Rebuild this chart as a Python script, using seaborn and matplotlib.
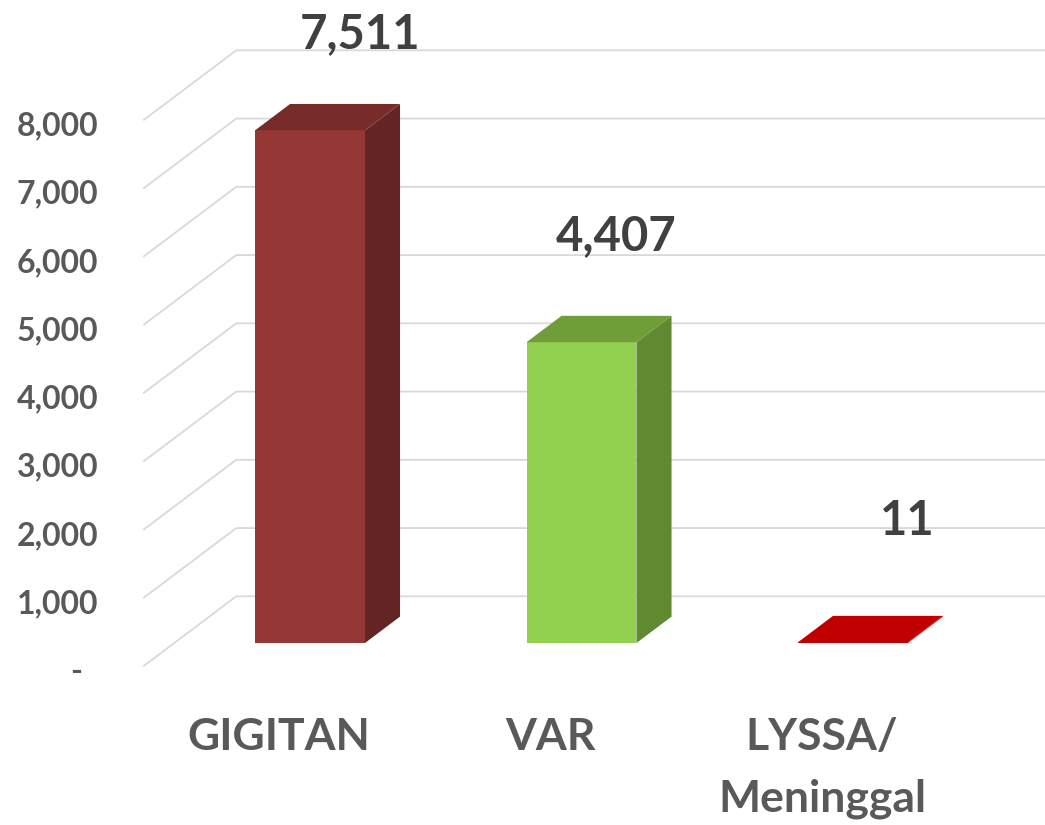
import matplotlib
matplotlib.use("Agg")
import matplotlib.pyplot as plt
import seaborn as sns
import pandas as pd
from matplotlib.patches import Polygon
from matplotlib.transforms import offset_copy

# ---------------- data ----------------
categories = ["GIGITAN", "VAR", "LYSSA/\nMeninggal"]
values = [7511, 4407, 11]
value_labels = ["7,511", "4,407", "11"]
tick_values = [0, 1000, 2000, 3000, 4000, 5000, 6000, 7000, 8000]
tick_labels = ["-  ", "1,000", "2,000", "3,000", "4,000", "5,000", "6,000", "7,000", "8,000"]

# ---------------- styles ----------------
front_colors = ["#953735", "#92D050", "#C00000"]
side_colors = ["#632523", "#5F8A31", "#C00000"]
top_colors = ["#772C2A", "#6F9E39", "#C00000"]
label_nudges = [(50, 82), (35, 92), (54, 107)]  # px, value labels
grid_color = "#D9D9D9"
axis_text = "#595959"
value_text = "#404040"

sns.set_theme(style="white")
plt.rcParams["font.family"] = ["Lato", "DejaVu Sans"]

W, H, DPI = 10.45, 8.25, 100
fig = plt.figure(figsize=(W, H), dpi=DPI)
ax = fig.add_axes([0, 0, 1, 1])

df = pd.DataFrame({"cat": categories, "val": values})
sns.barplot(data=df, x="cat", y="val", hue="cat", palette=front_colors,
            order=categories, hue_order=categories, width=0.405,
            saturation=1, legend=False, linewidth=0, ax=ax, zorder=2)

# axis scaling (category spacing 271.5 px, 68.25 px per 1000)
ax.set_xlim(-1.1418, 2.7072)
ax.set_ylim(-2666.7, 9421.2)
ax.set_axis_off()

# pseudo-3D depth vector for the full wall (data units)
DX, DY = 0.3425, 1025.6
F = 1.0 / 3.0          # bar front plane lies 1/3 into the depth
BD = 0.377             # bar depth fraction
wall_left = -0.5

# gridlines on the back wall with slanted side wall part
for v in tick_values:
    xs = [wall_left - F * DX, wall_left + (1 - F) * DX, 3.0]
    ys = [v - F * DY, v + (1 - F) * DY, v + (1 - F) * DY]
    ax.plot(xs, ys, color=grid_color, lw=1.3, zorder=0, solid_capstyle="butt")

# tick labels at front-left of the wall
for v, lab in zip(tick_values, tick_labels):
    tr = offset_copy(ax.transData, fig=fig, x=-45, y=-15, units="dots")
    ax.text(wall_left - F * DX, v - F * DY, lab, transform=tr, ha="right",
            va="baseline", fontsize=23, fontweight="bold", color=axis_text)

# side and top faces of bars
bars = sorted(ax.patches, key=lambda p: p.get_x())
ddx, ddy = BD * DX, BD * DY
LINE_PX = 61
for i, p in enumerate(bars):
    x0 = p.get_x()
    x1 = x0 + p.get_width()
    h = p.get_height()
    side = Polygon([(x1, 0), (x1 + ddx, ddy), (x1 + ddx, h + ddy), (x1, h)],
                   closed=True, facecolor=side_colors[i], edgecolor="none", zorder=2)
    top = Polygon([(x0, h), (x0 + ddx, h + ddy), (x1 + ddx, h + ddy), (x1, h)],
                  closed=True, facecolor=top_colors[i], edgecolor="none", zorder=2)
    ax.add_patch(side)
    ax.add_patch(top)

    # value labels
    cx = x0 + p.get_width() / 2
    ndx, ndy = label_nudges[i]
    tr = offset_copy(ax.transData, fig=fig, x=ndx, y=ndy, units="dots")
    ax.text(cx, h, value_labels[i], transform=tr, ha="center", va="baseline",
            fontsize=34, fontweight="bold", color=value_text, zorder=3)

    # category labels at the front plane, one text line at a time
    for j, line in enumerate(categories[i].split("\n")):
        tr = offset_copy(ax.transData, fig=fig, x=0, y=-84 - LINE_PX * j, units="dots")
        ax.text(cx - F * DX, -F * DY, line, transform=tr, ha="center",
                va="baseline", fontsize=32, fontweight="bold", color=axis_text)

fig.savefig("out.png", dpi=DPI)
